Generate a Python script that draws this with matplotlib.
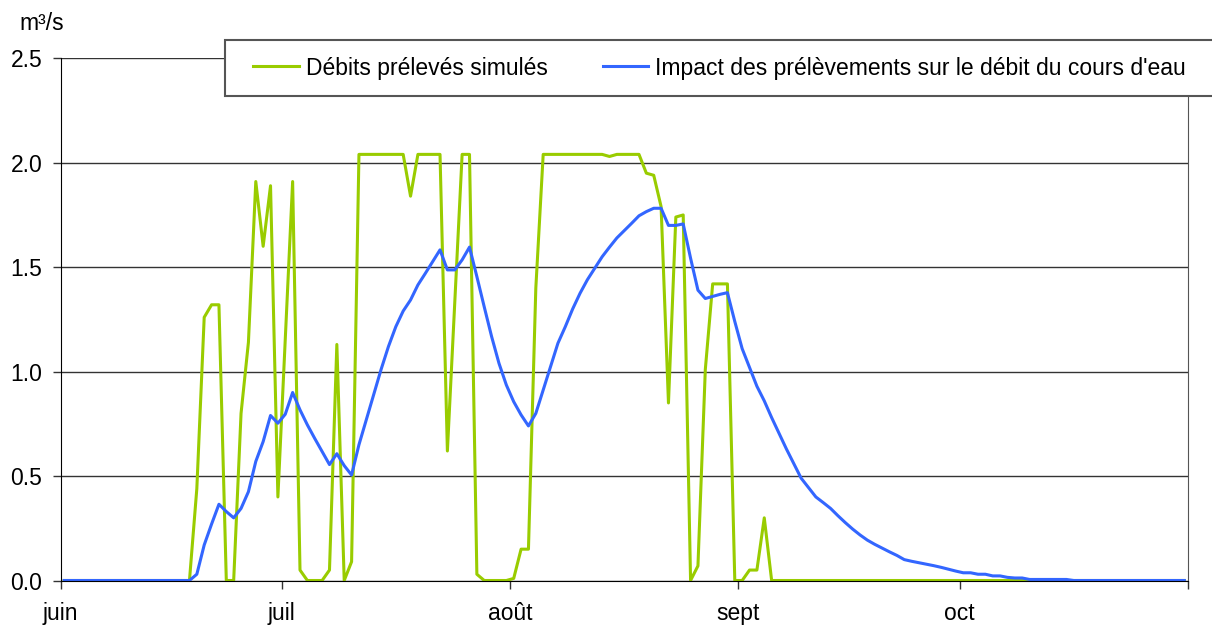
import numpy as np
import matplotlib
matplotlib.use("Agg")
import matplotlib.pyplot as plt
from matplotlib.patches import Rectangle

plt.rcParams['font.family'] = ['Liberation Sans', 'DejaVu Sans']

# daily values, 1 June -> 31 October (m3/s)
month_labels = ['juin', 'juil', 'août', 'sept', 'oct', '']
month_starts = [0, 30, 61, 92, 122, 153]

debits_preleves = [
    0, 0, 0, 0, 0, 0, 0, 0, 0, 0, 0, 0, 0, 0, 0, 0, 0,
    0, 0.44, 1.26, 1.32, 1.32, 0, 0, 0.80, 1.14, 1.91, 1.60, 1.89, 0.40,
    1.15, 1.91, 0.05, 0, 0, 0, 0.05, 1.13, 0, 0.09,
    2.04, 2.04, 2.04, 2.04, 2.04, 2.04, 2.04, 1.84, 2.04, 2.04, 2.04, 2.04,
    0.62, 1.33, 2.04, 2.04, 0.03, 0, 0, 0, 0, 0.01, 0.15, 0.15, 1.40,
    2.04, 2.04, 2.04, 2.04, 2.04, 2.04, 2.04, 2.04, 2.04, 2.03,
    2.04, 2.04, 2.04, 2.04, 1.95, 1.94, 1.79, 0.85, 1.74, 1.75,
    0, 0.07, 1.01, 1.42, 1.42, 1.42, 0, 0, 0.05, 0.05, 0.30,
    0, 0, 0, 0, 0, 0, 0, 0, 0, 0, 0, 0, 0, 0, 0, 0, 0, 0, 0, 0,
    0, 0, 0, 0, 0, 0, 0, 0, 0, 0, 0, 0, 0, 0, 0, 0, 0, 0, 0, 0,
    0, 0, 0, 0, 0, 0, 0, 0, 0, 0, 0, 0, 0, 0, 0, 0, 0,
]

impact_debit = [
    0, 0, 0, 0, 0, 0, 0, 0, 0, 0, 0, 0, 0, 0, 0, 0, 0, 0,
    0.03, 0.17, 0.27, 0.365, 0.33, 0.30, 0.345, 0.425, 0.57, 0.665,
    0.79, 0.753, 0.796, 0.90, 0.817, 0.745, 0.68, 0.617, 0.555, 0.607,
    0.55, 0.505, 0.65, 0.77, 0.89, 1.01, 1.12, 1.215, 1.29, 1.343,
    1.415, 1.47, 1.527, 1.583, 1.487, 1.487, 1.535, 1.596, 1.455, 1.31,
    1.168, 1.04, 0.936, 0.856, 0.793, 0.74, 0.80, 0.912, 1.024, 1.136,
    1.215, 1.30, 1.375, 1.44, 1.495, 1.55, 1.596, 1.64, 1.675, 1.71,
    1.746, 1.766, 1.782, 1.782, 1.70, 1.70, 1.707, 1.543, 1.39, 1.35,
    1.36, 1.37, 1.378, 1.24, 1.11, 1.02, 0.93, 0.86, 0.78, 0.705,
    0.63, 0.56, 0.49, 0.445, 0.40, 0.373, 0.345, 0.31, 0.277, 0.246,
    0.218, 0.193, 0.173, 0.155, 0.137, 0.12, 0.10, 0.092, 0.085, 0.078,
    0.071, 0.063, 0.054, 0.045, 0.037, 0.037, 0.03, 0.03, 0.022, 0.022,
    0.015, 0.012, 0.012, 0.005, 0.005, 0.005, 0.005, 0.005, 0.005,
    0, 0, 0, 0, 0, 0, 0, 0, 0, 0, 0, 0, 0, 0, 0, 0,
]

days = np.arange(len(debits_preleves)) + 0.5

fig = plt.figure(figsize=(12.12, 6.26), dpi=100)
ax = fig.add_axes([60.5 / 1212, 1 - 580.5 / 626, (1188 - 60.5) / 1212, (580.5 - 58.3) / 626])

ax.plot(days, debits_preleves, color='#99CC00', lw=2.2, label='Débits prélevés simulés')
ax.plot(days, impact_debit, color='#3366FF', lw=2.2,
        label="Impact des prélèvements sur le débit du cours d'eau")

ax.set_xlim(0, 153)
ax.set_ylim(0, 2.5)
ax.set_xticks(month_starts)
ax.set_xticklabels(month_labels)
ax.set_yticks([0, 0.5, 1.0, 1.5, 2.0, 2.5])
ax.set_yticklabels(['0.0', '0.5', '1.0', '1.5', '2.0', '2.5'])
ax.tick_params(axis='both', labelsize=16.5, length=5.5, width=1, color='#333333')
ax.tick_params(axis='y', pad=7.5)
ax.tick_params(axis='x', pad=10)

ax.grid(axis='y', color='#333333', lw=1)
ax.set_axisbelow(True)
ax.spines['top'].set_visible(False)
ax.spines['right'].set_color('#555555')
ax.spines['left'].set_color('black')
ax.spines['bottom'].set_color('black')

fig.text(19 / 1212, 1 - 30 / 626, 'm³/s', fontsize=16.5, va='baseline')

# legend frame, running off the right edge like in the original
fig.patches.append(Rectangle((225 / 1212, 1 - 96 / 626), 1020 / 1212, 56 / 626,
                             transform=fig.transFigure, facecolor='white',
                             edgecolor='#555555', lw=1.5, zorder=4))
handles, labels = ax.get_legend_handles_labels()
fig.legend(handles, labels, loc='center left', bbox_to_anchor=(253 / 1212, 1 - 68 / 626),
           ncol=2, frameon=False, fontsize=16.5, handlelength=2.0, handletextpad=0.3,
           columnspacing=2.4, borderpad=0, borderaxespad=0)

fig.savefig('out.png', dpi=100)
